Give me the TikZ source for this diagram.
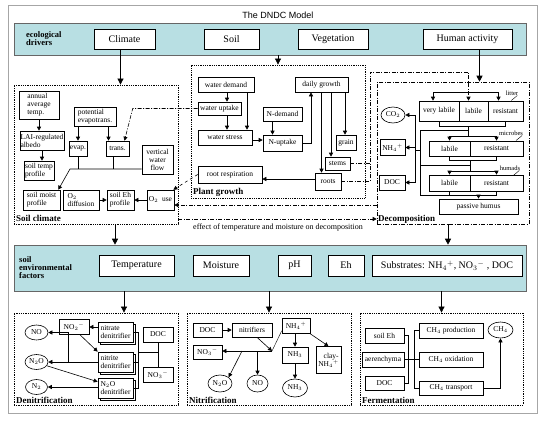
\documentclass[tikz,border=0pt]{standalone}
\usepackage{fontspec}
\setmainfont{Liberation Serif}
\newfontfamily\titlefont{Liberation Sans}
\usetikzlibrary{arrows.meta,shapes.geometric,calc,shadows}

\definecolor{bandcyan}{RGB}{184,223,227}

\begin{document}
\begin{tikzpicture}[x=1pt,y=-1pt,
  box/.style={draw, fill=white, line width=0.6pt, inner sep=0.5pt, align=center, font=\fontsize{7.5}{8}\selectfont},
  bigbox/.style={draw, fill=white, line width=0.7pt, inner sep=1pt, font=\fontsize{10}{11}\selectfont},
  denbox/.style={box, align=left, minimum width=35, minimum height=20,
    copy shadow={shadow xshift=2.5pt, shadow yshift=-2.5pt, fill=white, draw=black, line width=0.6pt}},
  oval/.style={ellipse, draw, fill=white, line width=0.6pt, inner sep=0pt, font=\fontsize{7.5}{8}\selectfont},
  band/.style={draw=black!60, fill=bandcyan, line width=0.6pt, inner sep=0pt, minimum width=512},
  bandlab/.style={anchor=west, inner sep=0pt, align=left, font=\fontsize{8.5}{8}\selectfont\bfseries},
  region/.style={draw, densely dotted, line width=0.8pt, inner sep=0pt},
  regionlab/.style={anchor=west, inner sep=0pt, font=\fontsize{9}{10}\selectfont\bfseries},
  poollab/.style={inner sep=0pt, font=\fontsize{6.5}{7}\selectfont},
  arr/.style={-{Triangle[length=4pt,width=4pt]}, line width=0.6pt},
  bigarr/.style={-{Triangle[length=6pt,width=6pt]}, line width=0.7pt},
  dd/.style={dash pattern=on 4pt off 1.5pt on 1pt off 1.5pt, line width=0.6pt},
]
\fill[white] (0,0) rectangle (544,421);
\useasboundingbox (0,0) rectangle (544,421);
\draw[black!35, line width=1pt] (8,5) rectangle (537,413);

\node[font=\titlefont\fontsize{9}{10}\selectfont] (title) at (278,15) {The DNDC Model};

% ecological drivers
\node[band, minimum height=32] (band1) at (270,39) {};
\node[bandlab] (ecolab) at (26,39) {ecological\\drivers};
\node[bigbox, minimum width=61, minimum height=20] (climate) at (124.5,39) {Climate};
\node[bigbox, minimum width=55, minimum height=20] (soil) at (231.5,39) {Soil};
\node[bigbox, minimum width=70, minimum height=20] (veg) at (333,39) {Vegetation};
\node[bigbox, minimum width=89, minimum height=20] (human) at (467.5,39) {Human activity};

% sub-models
\node[region, minimum width=164, minimum height=139] (soilclim) at (96,154.5) {};
\node[region, minimum width=174, minimum height=133] (plantgr) at (278,131.5) {};
\node[region, dd, minimum width=152, minimum height=142] (decomp) at (453,153) {};
\node[region, minimum width=164, minimum height=92] (denit) at (96,359) {};
\node[region, minimum width=164, minimum height=92] (nitri) at (269,359) {};
\node[region, minimum width=163, minimum height=92] (ferm) at (441.5,359) {};

% Soil climate
\node[box, align=left, minimum width=40, minimum height=28] (annual) at (39,105) {annual\\average\\temp.};
\node[box, align=left, minimum width=44, minimum height=19] (lai) at (42,140.5) {LAI-regulated\\albedo};
\node[box, align=left, minimum width=30, minimum height=19] (soiltemp) at (39,170.5) {soil temp\\profile};
\node[box, align=left, minimum width=42, minimum height=19] (potevap) at (95,116.5) {potential\\evapotrans.};
\node[box, minimum width=18, minimum height=15] (evap) at (78,148.5) {evap.};
\node[box, minimum width=23, minimum height=15] (trans) at (117.5,148.5) {trans.};
\node[box, minimum width=31, minimum height=29] (vwf) at (157.5,159.5) {vertical\\water\\flow};
\node[box, align=left, minimum width=37, minimum height=20] (soilmoist) at (41.5,200) {soil moist\\profile};
\node[box, align=left, minimum width=36, minimum height=20] (o2diff) at (81,200) {O$_2$\\diffusion};
\node[box, align=left, minimum width=27, minimum height=20] (soileh) at (120.5,200) {soil Eh\\profile};
\node[box, minimum width=27, minimum height=20] (o2use) at (160.5,200) {O$_2$~~use};
\node[regionlab] (soilclimlab) at (16,218) {Soil climate};

% Plant growth
\node[box, minimum width=56, minimum height=15] (wdem) at (226,84.5) {water demand};
\node[box, minimum width=43, minimum height=13] (wupt) at (219.5,108.5) {water uptake};
\node[box, minimum width=54, minimum height=15] (wstr) at (225,137.5) {water stress};
\node[box, minimum width=39, minimum height=14] (ndem) at (282.5,114) {N-demand};
\node[box, minimum width=39, minimum height=16] (nupt) at (282.5,143) {N-uptake};
\node[box, minimum width=53, minimum height=15] (dgrowth) at (321.5,84.5) {daily growth};
\node[box, minimum width=20, minimum height=15] (grain) at (346,142.5) {grain};
\node[box, minimum width=25, minimum height=13] (stems) at (337.5,163.5) {stems};
\node[box, minimum width=26, minimum height=17] (roots) at (328,181.5) {roots};
\node[box, minimum width=64, minimum height=17] (rootresp) at (230,174.5) {root respiration};
\node[regionlab] (plantlab) at (193,192) {Plant growth};

% Decomposition
\node[box, minimum width=40, minimum height=20] (lit1) at (439,111) {very labile};
\node[box, minimum width=29, minimum height=20] (lit2) at (473.5,111) {labile};
\node[box, minimum width=35, minimum height=20] (lit3) at (505.5,111) {resistant};
\node[box, minimum width=41, minimum height=15] (mic1) at (449.5,148.5) {labile};
\node[box, minimum width=53, minimum height=15] (mic2) at (496.5,148.5) {resistant};
\node[box, minimum width=41, minimum height=16] (hum1) at (449.5,183) {labile};
\node[box, minimum width=53, minimum height=16] (hum2) at (496.5,183) {resistant};
\node[box, minimum width=79, minimum height=15] (passive) at (478.5,206.5) {passive humus};
\node[oval, minimum width=24, minimum height=16] (co2) at (393,115) {CO$_2$};
\node[box, minimum width=25, minimum height=16] (nh4) at (392.5,147.5) {NH$_4{}^+$};
\node[box, minimum width=26, minimum height=15] (ddoc) at (392,182.5) {DOC};
\node[poollab] (litlab) at (512,93) {litter};
\node[poollab] (miclab) at (511,133) {microbes};
\node[poollab] (humlab) at (510,168) {humads};
\node[regionlab] (decolab) at (378,219) {Decomposition};

% soil environmental factors
\node[band, minimum height=46] (band2) at (270,268) {};
\node[bandlab] (envlab) at (19,268) {soil\\environmental\\factors};
\node[bigbox, minimum width=75, minimum height=21] (temp) at (136.5,265.5) {Temperature};
\node[bigbox, minimum width=56, minimum height=21] (moist) at (221,265.5) {Moisture};
\node[bigbox, minimum width=33, minimum height=21] (ph) at (294.5,265.5) {pH};
\node[bigbox, minimum width=36, minimum height=21] (eh) at (346,265.5) {Eh};
\node[bigbox, minimum width=150, minimum height=21] (subs) at (447,265.5) {Substrates: NH$_4{}^+$, NO$_3{}^-$ , DOC};

% Denitrification
\node[oval, minimum width=23, minimum height=15] (dno) at (36.5,332.5) {NO};
\node[oval, minimum width=23, minimum height=15] (dn2o) at (36.5,362) {N$_2$O};
\node[oval, minimum width=22, minimum height=15] (dn2) at (36.5,387) {N$_2$};
\node[box, minimum width=30, minimum height=15] (dno2) at (74,327) {NO$_2{}^-$};
\node[denbox] (nated) at (115.5,332) {nitrate\\denitrifier};
\node[denbox] (nited) at (115.5,362) {nitrite\\denitrifier};
\node[denbox] (n2oden) at (115.5,388) {N$_2$O\\denitrifier};
\node[box, minimum width=30, minimum height=15] (dendoc) at (158,334.5) {DOC};
\node[box, minimum width=30, minimum height=15] (dno3) at (158,374.5) {NO$_3{}^-$};
\node[regionlab] (denlab) at (16,400) {Denitrification};

% Nitrification
\node[box, minimum width=29, minimum height=14] (ndoc) at (207.5,330) {DOC};
\node[box, minimum width=40, minimum height=14] (nitrif) at (252,330) {nitrifiers};
\node[box, minimum width=28, minimum height=15] (nnh4) at (296,326) {NH$_4{}^+$};
\node[box, minimum width=29, minimum height=14] (nno3) at (207.5,352) {NO$_3{}^-$};
\node[box, minimum width=26, minimum height=16] (nnh3) at (295,355) {NH$_3$};
\node[box, align=right, minimum width=25, minimum height=27] (clay) at (328.5,360) {clay-\\NH$_4{}^+$};
\node[oval, minimum width=24, minimum height=17] (nn2o) at (220,383.5) {N$_2$O};
\node[oval, minimum width=21, minimum height=17] (nno) at (257.5,383.5) {NO};
\node[oval, minimum width=25, minimum height=18] (nnh3g) at (295,388) {NH$_3$};
\node[regionlab] (nitlab) at (189,400) {Nitrification};

% Fermentation
\node[box, minimum width=39, minimum height=15] (feh) at (384.5,335.5) {soil Eh};
\node[box, minimum width=42, minimum height=15] (faer) at (383,359.5) {aerenchyma};
\node[box, minimum width=39, minimum height=14] (fdoc) at (384.5,383) {DOC};
\node[box, minimum width=64, minimum height=15] (fprod) at (451,330.5) {CH$_4$ production};
\node[box, minimum width=64, minimum height=15] (foxi) at (451,359.5) {CH$_4$ oxidation};
\node[box, minimum width=64, minimum height=14] (ftra) at (451,388) {CH$_4$ transport};
\node[oval, minimum width=25, minimum height=16] (fch4) at (500.5,330) {CH$_4$};
\node[regionlab] (fermlab) at (362,400) {Fermentation};

% drivers -> sub-models
\draw[bigarr] ([xshift=-4]climate.south) -- ([xshift=-4]climate.south |- soilclim.north);
\draw[bigarr] (band1.south -| plantgr.north) -- (plantgr.north);
\draw[bigarr] ([xshift=12]human.south) -- ([xshift=12]human.south |- decomp.north);

% soil climate links
\draw[arr] (annual) -- (annual |- lai.north);
\draw[arr] (lai.south) -- (lai.south |- soiltemp.north);
\draw[arr] (evap |- potevap.south) -- (evap);
\draw[arr] ([xshift=-9]trans.north |- potevap.south) -- ([xshift=-9]trans.north);
\coordinate (moistj) at (70,169);
\draw (evap) -- (evap |- moistj);
\draw ([xshift=-4.5]trans.south) -- ([xshift=-4.5]trans.south |- moistj);
\draw[arr] (vwf.west |- moistj) -- (moistj) -- ([xshift=-2]soilmoist.north east);
\draw[arr] (o2diff) -- (soileh);
\draw[arr] (o2use) -- (soileh);

% plant growth links
\draw[arr] ([xshift=7.5]wupt.north |- wdem.south) -- ([xshift=7.5]wupt.north);
\draw[arr] ([xshift=7.5]wupt.south) -- ([xshift=7.5]wupt.south |- wstr.north);
\draw[arr] ([xshift=21]wdem.south) -- ([xshift=21]wdem.south |- wstr.north);
\draw[arr] (wstr.east |- 0,140) -- (nupt.west |- 0,140);
\draw[arr] ([xshift=-10]ndem.south) -- ([xshift=-10]nupt.north);
\draw[arr] (nupt.east) -| ([xshift=-10.5]dgrowth.south);
\draw[arr] (dgrowth.south) -- (dgrowth.south |- roots.north);
\draw[arr] ([xshift=9.5]dgrowth.south) -- ([xshift=9.5]dgrowth.south |- stems.north);
\draw[arr] ([xshift=23.5]dgrowth.south) -- ([xshift=23.5]dgrowth.south |- grain.north);
\draw[arr] (roots.west |- 0,179) -- (rootresp.east |- 0,179);
\draw[dashed, arr] (rootresp.west) -- ([xshift=-1]o2use.north east);
\draw[dd, arr] (wupt.west) -- ++(-65,0) -- ([xshift=7]trans.north);

% residues -> litter
\coordinate (pgout) at (370,72);
\draw[dd] (stems.east) -- (stems.east -| pgout);
\draw[dd, arr] (roots.east) -- (roots.east -| pgout) -- (pgout) -| ([xshift=-5]lit2.north);
\coordinate (litbar) at (468,92);
\draw ([xshift=-6]lit1.north |- litbar) -- ([xshift=-7]lit3.north |- litbar);
\draw[arr] ([xshift=-6]lit1.north |- litbar) -- ([xshift=-6]lit1.north);
\draw[arr] ([xshift=-7]lit3.north |- litbar) -- ([xshift=-7]lit3.north);

% decomposition pools
\draw (lit1.south) -- ++(0,5) -| (lit3.south);
\draw ([xshift=-5]lit2.south |- 0,126) -- ++(0,10) coordinate (micbar);
\draw (micbar -| mic1.north) -- (micbar -| mic2.north);
\draw[arr] (micbar -| mic1.north) -- (mic1.north);
\draw[arr] (micbar -| mic2.north) -- (mic2.north);
\draw (mic1.south) -- ++(0,4) -| (mic2.south);
\draw (mic1.south east |- 0,160) -- ++(0,11) coordinate (humbar);
\draw (humbar -| hum1.north) -- (humbar -| hum2.north);
\draw[arr] (humbar -| hum1.north) -- (hum1.north);
\draw[arr] (humbar -| hum2.north) -- (hum2.north);
\draw (hum1.south) -- ++(0,4) -| (hum2.south);
\draw[arr] (passive.north |- 0,195) -- (passive.north);
\coordinate (coll) at (420,130);
\draw (coll -| micbar) -- (coll) -- (coll |- 0,195) -- (hum1.south |- 0,195);
\draw (coll |- 0,165) -- (humbar |- 0,165);
\coordinate (outc) at (415,150);
\draw (co2.east -| outc) -- (ddoc.east -| outc);
\draw (outc) -- (outc -| coll);
\draw[arr] (co2.east -| outc) -- (co2.east);
\draw[arr] (nh4.east -| outc) -- (nh4.east);
\draw[arr] (ddoc.east -| outc) -- (ddoc.east);
\draw ([xshift=-1]litlab.south east) -- ++(-6,5);
\draw ([xshift=-1]miclab.south east) -- ++(-6,5);
\draw ([xshift=-1]humlab.south east) -- ++(-6,5);

% feedbacks between sub-models
\draw[dd, arr] (decomp.west |- 0,205) -- (o2use.east |- 0,205);
\draw[dd, arr] (soilclim.east |- 0,219) -- (decomp.west |- 0,219);
\node[font=\fontsize{8}{9}\selectfont] (effect) at (278,228) {effect of temperature and moisture on decomposition};

% sub-models -> soil environmental factors -> processes
\draw[bigarr] ([xshift=19]soilclim.south) -- ([xshift=19]soilclim.south |- band2.north);
\draw[bigarr] ([xshift=-5]decomp.south) -- ([xshift=-5]decomp.south |- band2.north);
\draw[bigarr] ([xshift=28]denit.north |- band2.south) -- ([xshift=28]denit.north);
\draw[bigarr] (nitri.north |- band2.south) -- (nitri.north);
\draw[bigarr] (ferm.north |- band2.south) -- (ferm.north);

% denitrification links
\draw[arr] (nated.west |- dno2) -- (dno2.east);
\draw[arr] ($(dno2.south)+(6,0)$) -- (nited.north west);
\draw[arr] (nited.west) -- ++(-29,0) |- (dno.east);
\draw[arr] (nited) -- (dn2o);
\draw[arr] (dn2o.-20) -- ($(n2oden.north west)+(0,4)$);
\draw[arr] (n2oden.west |- dn2) -- (dn2.east);
\coordinate (djn) at (138,352);
\draw (nated.east) -- (nated.east -| djn) -- (n2oden.east -| djn) -- (n2oden.east);
\draw (nited.east) -- (nited.east -| djn);
\draw (djn) -- (djn -| dendoc.south);
\draw (dendoc) -- (dno3);

% nitrification links
\coordinate (njn) at (272,351);
\draw[arr] (ndoc) -- (nitrif);
\draw[arr] ($(nitrif.south)+(5,0)$) -- (njn);
\draw ($(nnh4.south west)+(0,-3)$) -- (njn);
\draw[arr] (njn) -- (njn -| nno3.east);
\draw[arr] ($(njn)+(-30,0)$) -- (nn2o.north east);
\draw[arr] (njn -| nno.north) -- (nno.north);
\draw[arr] (nnh4.south -| nnh3.north) -- (nnh3.north);
\draw[arr] (nnh4.south east) -- (clay.north);
\draw[arr] (nnh3) -- (nnh3g);

% fermentation links
\draw (feh.east) -- ++(4,0) |- (fdoc.east);
\draw (faer) -- (foxi);
\draw (fprod.west) -- ++(-5,0) |- (ftra.west);
\draw[arr] (ftra.east) -| (fch4.south);
\end{tikzpicture}
\end{document}
